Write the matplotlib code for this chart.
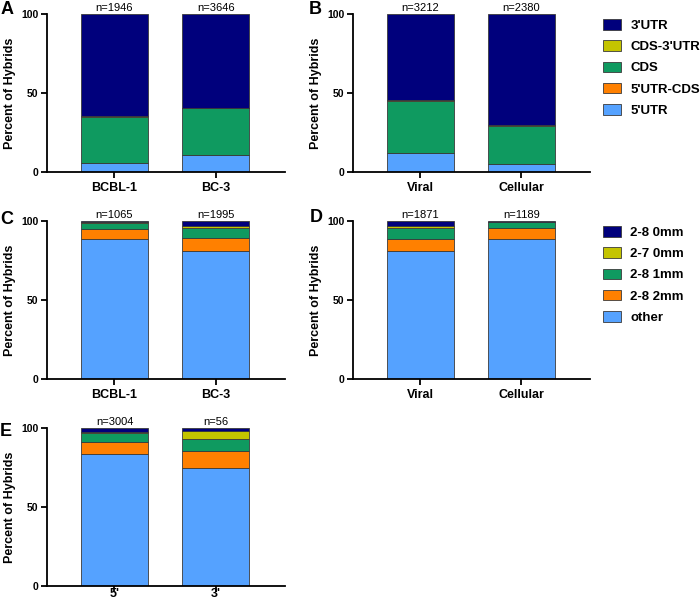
import matplotlib
matplotlib.use("Agg")
import matplotlib.pyplot as plt
import matplotlib.transforms as mtransforms
from matplotlib.patches import Patch
import numpy as np

plt.rcParams['font.family'] = ['Liberation Sans', 'DejaVu Sans']

# ---------------- data ----------------
region_labels = ["5'UTR", "5'UTR-CDS", "CDS", "CDS-3'UTR", "3'UTR"]  # bottom -> top
region_colors = ["#55a2ff", "#ff8000", "#0f9a60", "#c4c400", "#00007c"]

seed_labels = ["other", "2-8 2mm", "2-8 1mm", "2-7 0mm", "2-8 0mm"]  # bottom -> top
seed_colors = ["#55a2ff", "#ff8000", "#0f9a60", "#c4c400", "#00007c"]

a_cats = ["BCBL-1", "BC-3"]
a_n = ["n=1946", "n=3646"]
a_vals = [[5.5, 10.8], [0.2, 0.1], [28.8, 29.4], [0.7, 0.2], [64.8, 59.5]]

b_cats = ["Viral", "Cellular"]
b_n = ["n=3212", "n=2380"]
b_vals = [[11.8, 4.9], [0.2, 0.1], [33.1, 24.3], [0.2, 0.4], [54.7, 70.3]]

c_cats = ["BCBL-1", "BC-3"]
c_n = ["n=1065", "n=1995"]
c_vals = [[88.8, 81.0], [5.9, 8.2], [3.8, 6.6], [0.7, 1.2], [0.8, 3.0]]

d_cats = ["Viral", "Cellular"]
d_n = ["n=1871", "n=1189"]
d_vals = [[80.8, 88.6], [7.8, 6.8], [7.0, 3.8], [1.2, 0.3], [3.2, 0.5]]

e_cats = ["5'", "3'"]
e_n = ["n=3004", "n=56"]
e_vals = [[83.8, 75.0], [7.4, 10.7], [5.5, 7.1], [0.6, 5.4], [2.5, 1.8]]

# ---------------- figure ----------------
W, H = 700, 604
fig = plt.figure(figsize=(W / 100, H / 100), dpi=100)


def px_axes(left, right, top, bottom):
    return fig.add_axes([left / W, 1 - bottom / H, (right - left) / W, (bottom - top) / H])


def draw_panel(ax, cats, nlabels, vals, colors, xpad=3):
    x = np.arange(len(cats))
    bottom = np.zeros(len(cats))
    for v, c in zip(vals, colors):
        v = np.array(v)
        ax.bar(x, v, bottom=bottom, width=0.66, color=c, edgecolor="#3a3a3a",
               linewidth=0.6, zorder=2)
        bottom += v
    ax.set_xlim(-0.665, 1.68)
    ax.set_ylim(0, 100)
    ax.set_yticks([0, 50, 100])
    ax.set_xticks(x)
    ax.set_xticklabels(cats, fontsize=9, fontweight='bold')
    for lbl in ax.get_yticklabels():
        lbl.set_fontsize(7.5)
        lbl.set_fontweight('bold')
    ax.set_ylabel("Percent of Hybrids", fontsize=9, fontweight='bold', labelpad=4)
    for s in ['top', 'right']:
        ax.spines[s].set_visible(False)
    for s in ['left', 'bottom']:
        ax.spines[s].set_linewidth(1.3)
    ax.tick_params(axis='both', direction='out', length=4, width=1.3, pad=2)
    ax.tick_params(axis='x', pad=xpad)
    off = mtransforms.offset_copy(ax.transData, fig=fig, x=0, y=3, units='dots')
    for xi, t in zip(x, nlabels):
        ax.text(xi, 100, t, ha='center', va='baseline', fontsize=8, transform=off,
                clip_on=False)


axA = px_axes(47, 285, 14, 172)
draw_panel(axA, a_cats, a_n, a_vals, region_colors)
axB = px_axes(353, 590, 14, 172)
draw_panel(axB, b_cats, b_n, b_vals, region_colors)
axC = px_axes(47, 285, 221, 379)
draw_panel(axC, c_cats, c_n, c_vals, seed_colors)
axD = px_axes(353, 590, 221, 379)
draw_panel(axD, d_cats, d_n, d_vals, seed_colors)
axE = px_axes(47, 285, 428, 586)
draw_panel(axE, e_cats, e_n, e_vals, seed_colors, xpad=-2.5)

# panel letters
for letter, (px, py) in zip("ABCDE", [(7, 10), (315, 9), (7, 220), (316, 218), (6, 432)]):
    fig.text(px / W, 1 - py / H, letter, fontsize=13, fontweight='bold',
             ha='center', va='center')

# legends
def add_legend(labels, colors, top_px):
    handles = [Patch(facecolor=c, edgecolor="#3a3a3a", linewidth=0.6)
               for c in colors][::-1]
    fig.legend(handles, labels[::-1], loc='upper left',
               bbox_to_anchor=(603 / W, 1 - top_px / H), frameon=False,
               prop={'size': 9.5, 'weight': 'bold'}, borderpad=0, borderaxespad=0,
               handlelength=1.36, handleheight=0.85, handletextpad=0.7,
               labelspacing=0.64)

add_legend(region_labels, region_colors, 19)
add_legend(seed_labels, seed_colors, 226)

fig.savefig("out.png", dpi=100)
